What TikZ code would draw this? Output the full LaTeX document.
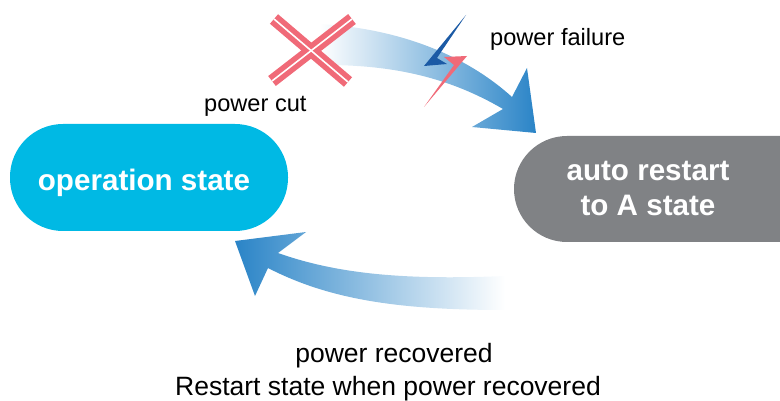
\documentclass[tikz,border=0pt]{standalone}
\usepackage{fontspec}
\setmainfont{Liberation Sans}
\definecolor{opblue}{HTML}{00B9E4}
\definecolor{restartgray}{HTML}{808285}
\definecolor{crosspink}{HTML}{F06A78}
\definecolor{boltblue}{HTML}{1B5AA5}
\definecolor{arrowend}{HTML}{2A84C7}
\definecolor{arrowmid}{HTML}{A4B9E6}
\tikzset{
  pill/.style={rounded corners=53pt,draw=none},
  pilltext/.style={text=white,font=\fontsize{29.6}{35}\selectfont\bfseries,align=center},
  lbl/.style={text=black,inner sep=0pt,font=\fontsize{23.6}{28}\selectfont},
  lblbig/.style={text=black,inner sep=0pt,anchor=base,font=\fontsize{26.5}{32}\selectfont},
  flowright/.style={left color=white,middle color=arrowmid,right color=arrowend,draw=none},
  flowleft/.style={left color=arrowend,middle color=arrowmid,right color=white,draw=none},
}
\begin{document}
\begin{tikzpicture}[x=1pt,y=-1pt]
\useasboundingbox (0,0) rectangle (780,401);
% top arrow
\shade[flowright] (320,24) .. controls (390,28) and (460,50) .. (512,97)
  -- (527,68) -- (536,133) -- (472,127) -- (503,109)
  .. controls (450,78) and (395,65) .. (325,65) -- cycle;
% bottom arrow
\shade[flowleft] (235,241) -- (306,232) -- (278,253)
  .. controls (340,275) and (410,280) .. (505,276)
  -- (505,310) .. controls (400,310) and (330,300) .. (268,268)
  -- (255,296) -- cycle;
% pills
\fill[opblue,pill] (10,124) rectangle (288,231);
\node[pilltext] (op) at (144,182.5) {operation state};
\begin{scope}
\clip (0,0) rectangle (780,401);
\fill[restartgray,pill] (514,136) rectangle (840,242);
\end{scope}
\node[pilltext] (auto) at (648,188) {auto restart\\to A state};
% cross
\draw[crosspink,line width=12.5pt] (274,19) -- (348,82);
\draw[crosspink,line width=12.5pt] (352,19) -- (272,81);
\draw[white,line width=1.6pt] (274,19) -- (348,82);
\draw[white,line width=1.6pt] (352,19) -- (272,81);
% lightning
\fill[crosspink] (467,56) -- (424,107) -- (454,65) -- (444,57) -- cycle;
\fill[boltblue] (466,15) -- (424,66) -- (447,64) -- (437,58) -- cycle;
% labels
\node[lbl,anchor=west] (cut) at (204,106.5) {power cut};
\node[lbl,anchor=west] (fail) at (490,39) {power failure};
\node[lblbig] (rec) at (394,362) {power recovered};
\node[lblbig] (rest) at (388,395) {Restart state when power recovered};
\end{tikzpicture}
\end{document}
